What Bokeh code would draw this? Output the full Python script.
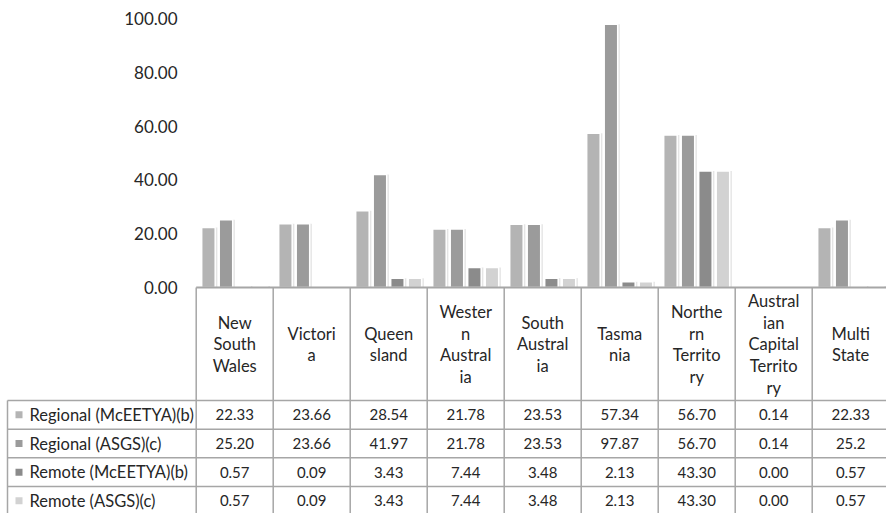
import numpy as np
from bokeh.plotting import figure
from bokeh.models import ColumnDataSource, Range1d
from bokeh.transform import dodge
from bokeh.core.properties import value
from bokeh.embed import file_html
from bokeh.resources import INLINE

# ---------------- data ----------------
categories = ["New South Wales", "Victoria", "Queensland", "Western Australia",
              "South Australia", "Tasmania", "Northern Territory",
              "Australian Capital Territory", "Multi State"]
header_labels = ["New\nSouth\nWales", "Victori\na", "Queen\nsland", "Wester\nn\nAustral\nia",
                 "South\nAustral\nia", "Tasma\nnia", "Northe\nrn\nTerrito\nry",
                 "Austral\nian\nCapital\nTerrito\nry", "Multi\nState"]
series_names = ["Regional (McEETYA)(b)", "Regional (ASGS)(c)",
                "Remote (McEETYA)(b)", "Remote (ASGS)(c)"]
regional_mceetya = [22.33, 23.66, 28.54, 21.78, 23.53, 57.34, 56.70, 0.14, 22.33]
regional_asgs = [25.20, 23.66, 41.97, 21.78, 23.53, 97.87, 56.70, 0.14, 25.2]
remote_mceetya = [0.57, 0.09, 3.43, 7.44, 3.48, 2.13, 43.30, 0.00, 0.57]
remote_asgs = [0.57, 0.09, 3.43, 7.44, 3.48, 2.13, 43.30, 0.00, 0.57]
table_text_overrides = {(1, 8): "25.2"}
y_ticks = [0, 20, 40, 60, 80, 100]
y_tick_labels = ["0.00", "20.00", "40.00", "60.00", "80.00", "100.00"]

series_values = [regional_mceetya, regional_asgs, remote_mceetya, remote_asgs]
series_colors = ["#b4b4b4", "#9b9b9b", "#8b8b8b", "#d2d2d2"]

# ---------------- geometry (pixel layout -> data units) ----------------
W, H = 886, 513
X0, CW = 195.7, 77.0      # left edge of first category column, column width (px)
Y0, S = 287.0, 2.69       # pixel row of value 0, pixels per value unit


def dx(px):
    return (px - X0) / CW


def dy(py):
    return (Y0 - py) / S


FONT = value("Lato")
TEXT_COLOR = "#262626"
GRID_COLOR = "#a6a6a6"

p = figure(width=W, height=H, output_backend="svg", toolbar_location=None,
           x_range=Range1d(dx(0), dx(W)), y_range=Range1d(dy(H), dy(0)),
           min_border=0, min_border_left=0, min_border_right=0,
           min_border_top=0, min_border_bottom=0)
p.xaxis.visible = False
p.yaxis.visible = False
p.xgrid.visible = False
p.ygrid.visible = False
p.outline_line_color = None
p.background_fill_color = "white"
p.border_fill_color = "white"

# ---------------- bars ----------------
xc = np.arange(len(categories)) + 0.5
src = ColumnDataSource(dict(x=xc, s0=regional_mceetya, s1=regional_asgs,
                            s2=remote_mceetya, s3=remote_asgs))
pitch = 17.5 / CW
bw = 13.5 / CW
offsets = [(-1.5 + i) * pitch for i in range(4)]
for i in range(4):
    p.vbar(x=dodge("x", offsets[i] + 2.2 / CW), top=f"s{i}", bottom=0, source=src,
           width=bw, fill_color="#000000", fill_alpha=0.10, line_color=None)
for i in range(4):
    p.vbar(x=dodge("x", offsets[i]), top=f"s{i}", bottom=0, source=src,
           width=bw, fill_color=series_colors[i], line_color="white", line_width=1.5)

# ---------------- y tick labels ----------------
p.text(x=[dx(177)] * len(y_ticks), y=y_ticks, text=y_tick_labels,
       text_font=FONT, text_font_size="17px", text_color=TEXT_COLOR,
       text_align="right", text_baseline="middle")

# ---------------- data table ----------------
row_lines = [400.0, 428.7, 457.3, 486.0, 514.7]
xs0, ys0, xs1, ys1 = [], [], [], []
# horizontal row separators
for ry in row_lines[:-1]:
    xs0.append(dx(7)); xs1.append(dx(W + 5)); ys0.append(dy(ry)); ys1.append(dy(ry))
# left border of label column
xs0.append(dx(7)); xs1.append(dx(7)); ys0.append(dy(400)); ys1.append(dy(H + 5))
# column separators
for k in range(len(categories) + 1):
    xs0.append(k); xs1.append(k); ys0.append(0); ys1.append(dy(H + 5))
p.segment(x0=xs0, y0=ys0, x1=xs1, y1=ys1, line_color=GRID_COLOR, line_width=1.5)
# axis line
p.segment(x0=[0], y0=[0], x1=[dx(W + 5)], y1=[0], line_color=GRID_COLOR, line_width=2)

# header labels
p.text(x=xc, y=[dy(344)] * len(categories), text=header_labels,
       text_font=FONT, text_font_size="16.5px", text_color=TEXT_COLOR,
       text_align="center", text_baseline="middle", text_line_height=1.09)

# rows
row_centers = [(row_lines[i] + row_lines[i + 1]) / 2 for i in range(4)]
p.scatter(x=[dx(18.5)] * 4, y=[dy(c) for c in row_centers], marker="square",
          size=7, fill_color=series_colors, line_color=None)
p.text(x=[dx(29)] * 4, y=[dy(c) for c in row_centers], text=series_names,
       text_font=FONT, text_font_size="16.5px", text_color=TEXT_COLOR,
       text_align="left", text_baseline="middle")

tx, ty, tt = [], [], []
for si, vals in enumerate(series_values):
    for ci, v in enumerate(vals):
        tx.append(xc[ci])
        ty.append(dy(row_centers[si]))
        tt.append(table_text_overrides.get((si, ci), f"{v:.2f}"))
p.text(x=tx, y=ty, text=tt, text_font=FONT, text_font_size="15px",
       text_color=TEXT_COLOR, text_align="center", text_baseline="middle")

open("out.html", "w").write(file_html(p, INLINE))
